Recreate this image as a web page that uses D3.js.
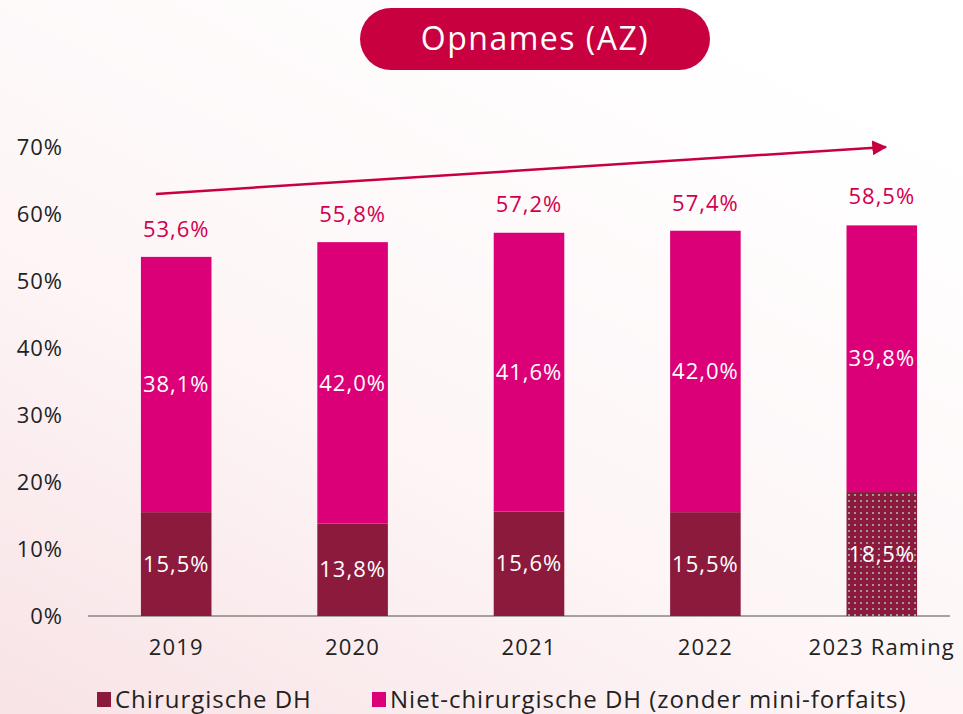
<!DOCTYPE html>
<html lang="nl">
<head>
<meta charset="UTF-8">
<title>Opnames (AZ)</title>
<script src="https://d3js.org/d3.v7.min.js"></script>
<style>
  body { margin: 0; }
  svg text { font-family: "Open Sans", "Noto Sans", sans-serif; }
</style>
</head>
<body>
<script>
// data
var years = ['2019', '2020', '2021', '2022', '2023 Raming'];
var chirurgisch = [15.5, 13.8, 15.6, 15.5, 18.5];
var nietChirurgisch = [38.1, 42.0, 41.6, 42.0, 39.8];
var totals = [53.6, 55.8, 57.2, 57.4, 58.5];
var yTicks = [0, 10, 20, 30, 40, 50, 60, 70];
var seriesNames = ['Chirurgische DH', 'Niet-chirurgische DH (zonder mini-forfaits)'];
var arrowFrom = 63, arrowTo = 70;

var width = 963, height = 714;
var colDark = '#8c1a3c', colPink = '#db0077', colRed = '#c8003f';
var font = '"Open Sans", "Noto Sans", sans-serif';

var svg = d3.select('body').append('svg')
    .attr('width', width)
    .attr('height', height);

var defs = svg.append('defs');
var bg = defs.append('linearGradient').attr('id', 'bg')
    .attr('x1', '0').attr('y1', '1').attr('x2', '0.7').attr('y2', '0');
bg.append('stop').attr('offset', '0%').attr('stop-color', '#f8e3e6');
bg.append('stop').attr('offset', '45%').attr('stop-color', '#fdf5f6');
bg.append('stop').attr('offset', '100%').attr('stop-color', '#ffffff');

var pat = defs.append('pattern').attr('id', 'dots')
    .attr('patternUnits', 'userSpaceOnUse')
    .attr('width', 6).attr('height', 6);
pat.append('rect').attr('width', 6).attr('height', 6).attr('fill', colDark);
pat.append('rect').attr('x', 2).attr('y', 2).attr('width', 2).attr('height', 2).attr('fill', '#9e98a0');

var mk = defs.append('marker').attr('id', 'arrowhead')
    .attr('viewBox', '0 0 10 10').attr('refX', 9).attr('refY', 5)
    .attr('markerWidth', 6).attr('markerHeight', 6)
    .attr('markerUnits', 'strokeWidth')
    .attr('orient', 'auto');
mk.append('path').attr('d', 'M0,0 L10,5 L0,10 z').attr('fill', colRed);

svg.append('rect').attr('width', width).attr('height', height).attr('fill', 'url(#bg)');

// scales
var x = d3.scaleBand().domain(years).range([88, 970]).paddingInner(0.6).paddingOuter(0.3);
var y = d3.scaleLinear().domain([0, 70]).range([616, 147]);

// title pill
var title = svg.append('g').attr('transform', 'translate(535,39)');
title.append('rect').attr('x', -175).attr('y', -31).attr('width', 350).attr('height', 62)
    .attr('rx', 31).attr('fill', colRed);
title.append('text').attr('text-anchor', 'middle').attr('dy', '0.35em')
    .attr('fill', '#fff').style('font-size', '32px').style('letter-spacing', '1.5px')
    .text('Opnames (AZ)');

// y axis labels
var yAxis = svg.append('g').attr('transform', 'translate(66,0)')
    .call(d3.axisLeft(y).tickValues(yTicks).tickFormat(function (d) { return d + '%'; }).tickSize(0));
yAxis.select('.domain').remove();
yAxis.selectAll('text').attr('fill', '#222').style('font-size', '22px')
    .style('letter-spacing', '1px').style('font-family', font);

// baseline
svg.append('line').attr('x1', 88).attr('x2', 950).attr('y1', y(0)).attr('y2', y(0))
    .attr('stroke', '#8a8586').attr('stroke-width', 1.5);

// x axis labels
var xAxis = svg.append('g').attr('transform', 'translate(0,' + y(0) + ')')
    .call(d3.axisBottom(x).tickSize(0).tickPadding(23));
xAxis.select('.domain').remove();
xAxis.selectAll('text').attr('fill', '#222').style('font-size', '22px')
    .style('letter-spacing', '1.2px').style('font-family', font);

// bars
var bars = svg.append('g');
bars.selectAll('rect.chir').data(years).enter().append('rect')
    .attr('class', 'chir')
    .attr('x', function (d) { return x(d); })
    .attr('width', x.bandwidth())
    .attr('y', function (d, i) { return y(chirurgisch[i]); })
    .attr('height', function (d, i) { return y(0) - y(chirurgisch[i]); })
    .attr('fill', function (d, i) { return i === 4 ? 'url(#dots)' : colDark; });

bars.selectAll('rect.niet').data(years).enter().append('rect')
    .attr('class', 'niet')
    .attr('x', function (d) { return x(d); })
    .attr('width', x.bandwidth())
    .attr('y', function (d, i) { return y(chirurgisch[i] + nietChirurgisch[i]); })
    .attr('height', function (d, i) { return y(chirurgisch[i]) - y(chirurgisch[i] + nietChirurgisch[i]); })
    .attr('fill', colPink);

function fmt(v) { return v.toFixed(1).replace('.', ',') + '%'; }

var labels = svg.append('g').attr('text-anchor', 'middle')
    .style('font-size', '22px').style('letter-spacing', '1px');
labels.selectAll('text.lc').data(years).enter().append('text')
    .attr('x', function (d) { return x(d) + x.bandwidth() / 2; })
    .attr('y', function (d, i) { return y(chirurgisch[i] / 2); })
    .attr('dy', '0.35em').attr('fill', '#fff')
    .text(function (d, i) { return fmt(chirurgisch[i]); });
labels.selectAll('text.ln').data(years).enter().append('text')
    .attr('x', function (d) { return x(d) + x.bandwidth() / 2; })
    .attr('y', function (d, i) { return y(chirurgisch[i] + nietChirurgisch[i] / 2); })
    .attr('dy', '0.35em').attr('fill', '#fff')
    .text(function (d, i) { return fmt(nietChirurgisch[i]); });
labels.selectAll('text.lt').data(years).enter().append('text')
    .attr('x', function (d) { return x(d) + x.bandwidth() / 2; })
    .attr('y', function (d, i) { return y(totals[i]) - 28; })
    .attr('dy', '0.35em').attr('fill', '#d0004f')
    .text(function (d, i) { return fmt(totals[i]); });

// trend arrow
svg.append('line')
    .attr('x1', x(years[0]) + 15).attr('y1', y(arrowFrom))
    .attr('x2', x(years[4]) + x.bandwidth() / 2 + 4).attr('y2', y(arrowTo))
    .attr('stroke', colRed).attr('stroke-width', 2.5)
    .attr('marker-end', 'url(#arrowhead)');

// legend
var legend = svg.append('g').attr('transform', 'translate(97,700)');
var legX = [0, 275];
var legCol = [colDark, colPink];
seriesNames.forEach(function (name, i) {
    var g = legend.append('g').attr('transform', 'translate(' + legX[i] + ',0)');
    g.append('rect').attr('x', 0).attr('y', -8).attr('width', 14).attr('height', 15).attr('fill', legCol[i]);
    g.append('text').attr('x', 18).attr('dy', '0.35em').attr('fill', '#222')
        .style('font-size', '24px').style('letter-spacing', '1px').text(name);
});
</script>
</body>
</html>
